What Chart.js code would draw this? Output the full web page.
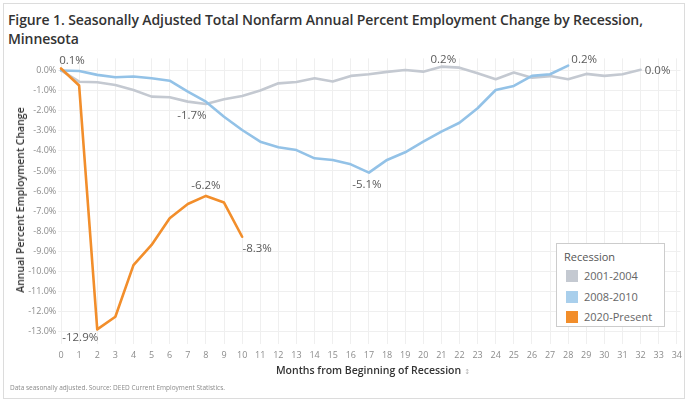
<!DOCTYPE html>
<html>
<head>
<meta charset="utf-8">
<title>Figure 1</title>
<script src="https://cdn.jsdelivr.net/npm/chart.js@4.4.0/dist/chart.umd.min.js"></script>
<style>
	body { margin: 0; background: #fff; font-family: "Open Sans", sans-serif; }
	#frame { position: absolute; left: 3px; top: 3px; width: 680px; height: 394px; border: 1px solid #dcdcdc; }
	#title { position: absolute; left: 8px; top: 10px; width: 675px; font-size: 14px; font-weight: 600; line-height: 19px; color: #333; letter-spacing: -0.1px; }
	#wrap { position: absolute; left: 0; top: 0; }
	#ytitle { position: absolute; left: 20px; top: 200px; transform: translate(-50%, -50%) rotate(-90deg); white-space: nowrap; font-size: 10.5px; font-weight: 600; color: #333; }
	#xtitle { position: absolute; left: 373px; top: 370px; transform: translate(-50%, -50%); white-space: nowrap; font-size: 10.5px; font-weight: 600; color: #333; }
	#xtitle span { color: #b5b5b5; font-family: "DejaVu Sans", sans-serif; font-size: 7px; font-weight: 400; margin-left: 3px; }
	#note { position: absolute; left: 10px; top: 383px; font-size: 6.5px; color: #8a8a8a; }
	#legend { position: absolute; left: 556px; top: 243px; width: 109px; height: 84px; border: 1px solid #ccc; background: #fff; box-sizing: border-box; }
	#legend .lt { position: absolute; left: 7px; top: 5px; font-size: 11px; color: #555; }
	#legend .it { position: absolute; left: 9px; font-size: 11px; color: #666; white-space: nowrap; }
	#legend .sw { display: inline-block; width: 12px; height: 12px; vertical-align: -2px; margin-right: 6px; }
</style>
</head>
<body>
<div id="frame"></div>
<div id="title">Figure 1. Seasonally Adjusted Total Nonfarm Annual Percent Employment Change by Recession, Minnesota</div>
<div id="wrap"><canvas id="myChart" width="688" height="403"></canvas></div>
<div id="ytitle">Annual Percent Employment Change</div>
<div id="xtitle">Months from Beginning of Recession<span>&#8597;</span></div>
<div id="note">Data seasonally adjusted. Source: DEED Current Employment Statistics.</div>
<div id="legend"></div>
<script>
	// dane
	let months = [0, 1, 2, 3, 4, 5, 6, 7, 8, 9, 10, 11, 12, 13, 14, 15, 16, 17, 18, 19, 20, 21, 22, 23, 24, 25, 26, 27, 28, 29, 30, 31, 32, 33, 34]
	let yTicks = [0, -1, -2, -3, -4, -5, -6, -7, -8, -9, -10, -11, -12, -13]
	let seriesNames = ["2001-2004", "2008-2010", "2020-Present"]
	let r2001 = [0.0, -0.56, -0.59, -0.72, -0.97, -1.30, -1.33, -1.55, -1.67, -1.43, -1.27, -1.00, -0.64, -0.57, -0.39, -0.55, -0.27, -0.19, -0.07, 0.02, -0.06, 0.19, 0.14, -0.14, -0.44, -0.10, -0.36, -0.28, -0.44, -0.17, -0.27, -0.19, 0.03]
	let r2008 = [0.0, -0.03, -0.22, -0.34, -0.30, -0.39, -0.51, -1.05, -1.55, -2.30, -2.96, -3.54, -3.82, -3.96, -4.37, -4.45, -4.67, -5.08, -4.45, -4.07, -3.54, -3.04, -2.60, -1.88, -0.97, -0.77, -0.27, -0.19, 0.24]
	let r2020 = [0.1, -0.75, -12.88, -12.25, -9.68, -8.68, -7.35, -6.64, -6.24, -6.57, -8.27]

	let colors = {
		gray: "#c4c9d1",
		blue: "#93c2e7",
		orange: "#f28e2b"
	}

	// etykiety punktów: seria, indeks, przesunięcie
	let pointLabels = [
		{ ds: 2, i: 0, dx: 11, dy: -8 },
		{ ds: 2, i: 2, dx: -17, dy: 8 },
		{ ds: 2, i: 8, dx: 0, dy: -10 },
		{ ds: 2, i: 10, dx: 15, dy: 12 },
		{ ds: 0, i: 8, dx: -14, dy: 12 },
		{ ds: 0, i: 21, dx: 2, dy: -7 },
		{ ds: 0, i: 32, dx: 17, dy: 1 },
		{ ds: 1, i: 17, dx: -2, dy: 12 },
		{ ds: 1, i: 28, dx: 16, dy: -6 }
	]

	function toPoints(arr) {
		return arr.map(function(v, i) { return { x: months[i], y: v } })
	}
	function pct(v) {
		let s = v.toFixed(1)
		if (s == "-0.0") s = "0.0"
		return s + "%"
	}

	let labelPlugin = {
		id: "pointLabels",
		afterDatasetsDraw: function(chart) {
			let ctx = chart.ctx
			ctx.save()
			ctx.font = "11.5px 'Open Sans'"
			ctx.fillStyle = "#5a5a5a"
			ctx.textAlign = "center"
			ctx.textBaseline = "middle"
			pointLabels.forEach(function(l) {
				let p = chart.getDatasetMeta(l.ds).data[l.i]
				let v = chart.data.datasets[l.ds].data[l.i].y
				ctx.fillText(pct(v), p.x + l.dx, p.y + l.dy)
			})
			ctx.restore()
		}
	}

	let chart = new Chart(document.getElementById("myChart").getContext("2d"), {
		type: "line",
		data: {
			datasets: [
				{ label: seriesNames[0], data: toPoints(r2001), borderColor: colors.gray, order: 3 },
				{ label: seriesNames[1], data: toPoints(r2008), borderColor: colors.blue, order: 2 },
				{ label: seriesNames[2], data: toPoints(r2020), borderColor: colors.orange, order: 1 }
			]
		},
		options: {
			responsive: false,
			animation: false,
			layout: { padding: { left: 0, top: 58.4, right: 6.4, bottom: 39.1 } },
			elements: {
				line: { borderWidth: 2.6, tension: 0, borderCapStyle: "round", borderJoinStyle: "round" },
				point: { radius: 0 }
			},
			plugins: { legend: { display: false }, tooltip: { enabled: false } },
			scales: {
				x: {
					type: "linear",
					min: -0.15,
					max: 34.2,
					afterFit: function(s) { s.height = 20 },
					afterBuildTicks: function(s) { s.ticks = months.map(function(m) { return { value: m } }) },
					grid: { color: "#efefef", drawTicks: false },
					border: { display: false },
					ticks: { padding: 6, autoSkip: false, maxRotation: 0, color: "#8c8c8c", font: { family: "Open Sans", size: 9 }, callback: function(v) { return String(v) } }
				},
				y: {
					min: -13.6,
					max: 0.6,
					afterFit: function(s) { s.width = 58.3 },
					afterBuildTicks: function(s) { s.ticks = yTicks.map(function(v) { return { value: v } }) },
					grid: { color: "#efefef", drawTicks: false },
					border: { display: false },
					ticks: { padding: 2, color: "#8c8c8c", font: { family: "Open Sans", size: 9 }, callback: function(v) { return pct(v) } }
				}
			}
		},
		plugins: [labelPlugin]
	});

	// legenda
	let legend = document.getElementById("legend")
	legend.innerHTML = '<div class="lt">Recession</div>'
	let swatch = [colors.gray, "#a9cfec", colors.orange]
	seriesNames.forEach(function(n, k) {
		let d = document.createElement("div")
		d.className = "it"
		d.style.top = (24 + k * 20.5) + "px"
		d.innerHTML = '<span class="sw" style="background:' + swatch[k] + '"></span>' + n
		legend.appendChild(d)
	})
</script>
</body>
</html>
